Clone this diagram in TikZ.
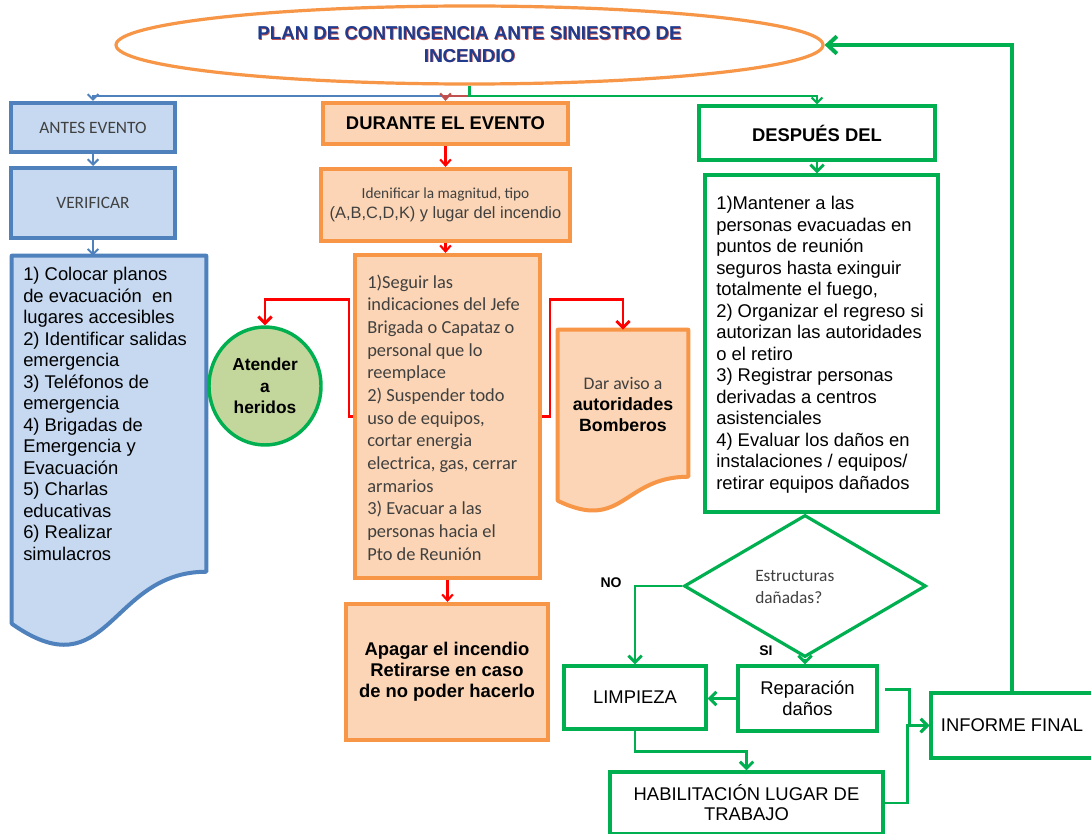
\documentclass[tikz,border=0pt]{standalone}
\usepackage{fontspec}
\setmainfont{Liberation Sans}
\newfontfamily\calfont{Carlito}
\usetikzlibrary{arrows.meta,shapes.geometric,calc}

\definecolor{bstroke}{HTML}{4F81BD}
\definecolor{bfill}{HTML}{C6D9F1}
\definecolor{ostroke}{HTML}{F79646}
\definecolor{ofill}{HTML}{FBD5B5}
\definecolor{gstroke}{HTML}{00B050}
\definecolor{gfill}{HTML}{C3D69B}
\definecolor{txtgray}{HTML}{404040}
\definecolor{titleblue}{HTML}{1F3C8F}
\definecolor{darkred}{HTML}{C0504D}
\definecolor{pure red}{HTML}{FF0000}

\tikzset{
  bluebox/.style={draw=bstroke, fill=bfill, line width=3pt, inner sep=0pt},
  orangebox/.style={draw=ostroke, fill=ofill, line width=3pt, inner sep=0pt},
  greenbox/.style={draw=gstroke, fill=white, line width=2.4pt, inner sep=0pt},
  arialtxt/.style={font=\fontsize{13.8}{16.1}\selectfont, text=black},
  arialbold/.style={font=\bfseries\fontsize{13.8}{15.75}\selectfont, text=black},
  calibtxt/.style={font=\calfont\fontsize{13.8}{17}\selectfont, text=txtgray},
  titlefont/.style={font=\bfseries\fontsize{14}{17}\selectfont},
  bconn/.style={draw=bstroke, line width=1.5pt, -{Straight Barb[length=4pt,width=8pt]}},
  rconn/.style={draw=pure red, line width=1.6pt, -{Straight Barb[length=4.5pt,width=8pt]}},
  gconn/.style={draw=gstroke, line width=2.2pt, -{Straight Barb[length=5pt,width=10pt]}},
}

\begin{document}
\begin{tikzpicture}[x=0.75pt,y=-0.75pt]
\fill[white] (0,0) rectangle (1091,834);
\useasboundingbox (0,0) rectangle (1091,834);

% ---------- title ----------
\node[ellipse, draw=ostroke, fill=white, line width=2.4pt, inner sep=0pt,
      minimum width=530.25pt, minimum height=58.5pt] (title) at (469.5,45) {};
\node[align=center, inner sep=0pt, text=darkred, titlefont] (titleshadow) at (470.2,45.1)
      {PLAN DE CONTINGENCIA ANTE SINIESTRO DE\\INCENDIO};
\node[align=center, inner sep=0pt, text=titleblue, titlefont] (titletext) at (469.5,44.5)
      {PLAN DE CONTINGENCIA ANTE SINIESTRO DE\\INCENDIO};

% ---------- before the event ----------
\node[bluebox, minimum width=123pt, minimum height=37pt, calibtxt,
      font=\calfont\fontsize{13}{15}\selectfont] (antes) at (93,127.5) {ANTES EVENTO};
\node[bluebox, minimum width=123pt, minimum height=52.5pt, calibtxt,
      font=\calfont\fontsize{13}{15}\selectfont] (verificar) at (93,203) {VERIFICAR};
\node[inner sep=0pt, minimum width=145.5pt, minimum height=295.5pt] (antesdoc) at (109,453) {};
\draw[draw=bstroke, fill=bfill, line width=3pt, line join=round]
  (antesdoc.north west) -- (antesdoc.north east) -- ($(antesdoc.north east)+(0,316)$)
  .. controls ($(antesdoc.north)+(0,316)$) and ($(antesdoc.north)+(0,436.4)$)
  .. ($(antesdoc.north west)+(0,368)$) -- cycle;
\node[arialtxt, align=left, anchor=base west, inner sep=0pt] (antestxt) at (23,560)
  {1) Colocar planos\\de evacuación~ en\\lugares accesibles\\2) Identificar salidas\\emergencia\\3) Teléfonos de\\emergencia\\4) Brigadas de\\Emergencia y\\Evacuación\\5) Charlas\\educativas\\6) Realizar\\simulacros};

% ---------- during the event ----------
\node[orangebox, minimum width=183.75pt, minimum height=30.75pt, arialbold] (durante) at (445.5,123.5) {DURANTE EL EVENTO};
\node[orangebox, minimum width=186.75pt, minimum height=54pt, align=center, text=txtgray,
      font=\fontsize{12.3}{15}\selectfont] (ident) at (445.5,205)
  {{\calfont\fontsize{11.5}{15}\selectfont Idenificar la magnitud, tipo}\\(A,B,C,D,K) y lugar del incendio};
\node[orangebox, minimum width=138.75pt, minimum height=242.25pt] (accion) at (447.5,416.5) {};
\node[calibtxt, align=left, anchor=base west, inner sep=0pt] (acciontxt) at (367,560)
  {1)Seguir las\\indicaciones del Jefe\\Brigada o Capataz o\\personal que lo\\reemplace\\2) Suspender todo\\uso de equipos,\\cortar energia\\electrica, gas, cerrar\\armarios\\3) Evacuar a las\\personas hacia el\\Pto de Reunión};
\node[orangebox, minimum width=151.5pt, minimum height=102pt, arialbold, align=center] (apagar) at (447,672)
  {Apagar el incendio\\Retirarse en caso\\de no poder hacerlo};
\node[ellipse, draw=gstroke, fill=gfill, line width=2.6pt, inner sep=0pt,
      minimum width=84pt, minimum height=88.5pt, align=center,
      font=\bfseries\fontsize{13}{16.1}\selectfont] (atender) at (265,386) {Atender\\a\\heridos};
\node[inner sep=0pt, minimum width=97.5pt, minimum height=137.25pt] (aviso) at (623,421.5) {};
\draw[draw=ostroke, fill=ofill, line width=3pt, line join=round]
  (aviso.north west) -- (aviso.north east) -- ($(aviso.north east)+(0,147)$)
  .. controls ($(aviso.north)+(0,147)$) and ($(aviso.north)+(0,202.7)$)
  .. ($(aviso.north west)+(0,171)$) -- cycle;
\node[align=center, inner sep=0pt, font=\fontsize{13.3}{16.1}\selectfont] (avisotxt) at (623,404.5)
  {{\calfont\color{txtgray}Dar aviso a}\\\textbf{autoridades}\\\textbf{Bomberos}};

% ---------- after the event ----------
\node[greenbox, minimum width=177pt, minimum height=40.5pt, arialbold] (despues) at (817,133) {DESPUÉS DEL};
\node[greenbox, minimum width=174.75pt, minimum height=252.75pt] (pasos) at (821.5,343.5) {};
\node[arialtxt, align=left, anchor=base west, inner sep=0pt] (pasostxt) at (716,489)
  {1)Mantener a las\\personas evacuadas en\\puntos de reunión\\seguros hasta exinguir\\totalmente el fuego,\\2) Organizar el regreso si\\autorizan las autoridades\\o el retiro\\3) Registrar personas\\derivadas a centros\\asistenciales\\4) Evaluar los daños en\\instalaciones / equipos/\\retirar equipos dañados};
\node[diamond, draw=gstroke, fill=white, line width=2.4pt, inner sep=0pt,
      minimum width=181.5pt, minimum height=106.5pt] (estruct) at (805,586) {};
\node[calibtxt, align=left, anchor=base west, inner sep=0pt,
      font=\calfont\fontsize{13}{16.5}\selectfont] (estructtxt) at (755,603) {Estructuras\\dañadas?};
\node[font=\bfseries\fontsize{10.5}{12}\selectfont, inner sep=0pt] (nolbl) at (611,583) {NO};
\node[font=\bfseries\fontsize{10.5}{12}\selectfont, inner sep=0pt] (silbl) at (766,651) {SI};
\node[greenbox, minimum width=106.5pt, minimum height=47.25pt, arialtxt] (limp) at (635,697.5) {LIMPIEZA};
\node[greenbox, minimum width=104.25pt, minimum height=48.75pt, arialtxt, align=center,
      font=\fontsize{13.8}{15.75}\selectfont] (rep) at (807.5,698.5) {Reparación\\daños};
\node[greenbox, minimum width=204.75pt, minimum height=46.5pt, arialtxt, align=center,
      font=\fontsize{13.8}{15}\selectfont] (hab) at (746.5,803) {HABILITACIÓN LUGAR DE\\TRABAJO};
\node[greenbox, minimum width=121.5pt, minimum height=48.75pt, arialtxt] (informe) at (1012,725.5) {INFORME FINAL};

% ---------- connectors ----------
\draw[bconn] (title.south) -- ++(0,10) -| (antes.north);
\draw[rconn, draw=darkred] (title.south) -- ++(0,10) -| (durante.north);
\draw[gconn, line width=1.6pt, -{Straight Barb[length=4pt,width=8pt]}] (title.south) -- ++(0,10) -| (despues.north);

\draw[bconn] (antes.south) -- (verificar.north);
\draw[bconn] (verificar.south) -- (antesdoc.north -| verificar.south);

\draw[rconn] (durante.south) -- (durante.south |- ident.north);
\draw[rconn] (ident.south) -- (ident.south |- accion.north);
\draw[rconn] (accion.south) -- (accion.south |- apagar.north);
\draw[rconn, line width=2.2pt, -{Straight Barb[length=5pt,width=10pt]}]
  (accion.west) -- ++(-4,0) -- ++(0,-117) -| (atender.north);
\draw[rconn, line width=2.2pt, -{Straight Barb[length=5pt,width=10pt]}]
  (accion.east) -- ++(8,0) -- ++(0,-117) -| (aviso.north);

\draw[gconn] (despues.south) -- (despues.south |- pasos.north);
\draw[gconn] (estruct.west) -| (limp.north);
\draw[gconn] (estruct.south) -- (estruct.south |- rep.north);
\draw[gconn] (rep.west) -- (rep.west -| limp.east);
\draw[gconn] (limp.south) -- ++(0,21) -| (hab.north);
\draw[gconn] ([xshift=5pt,yshift=7pt]rep.east) -- ++(24,0) |- (informe.west);
\draw[gconn] (hab.east) -- ++(23,0) |- (informe.west);
\draw[gconn, line width=3pt, -{Straight Barb[length=7pt,width=13pt]}] (informe.north) |- (title.east);

\end{tikzpicture}
\end{document}
